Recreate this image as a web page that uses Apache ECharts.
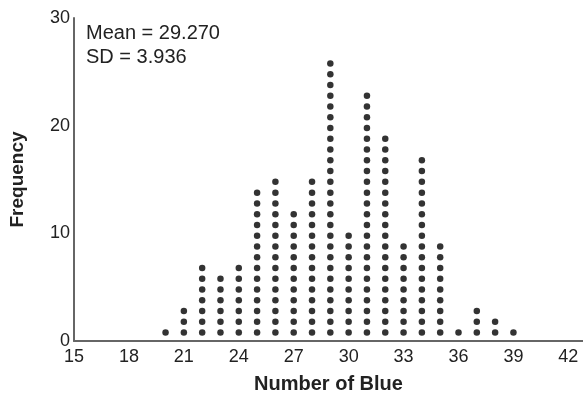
<!DOCTYPE html>
<html>
<head>
<meta charset="utf-8">
<script src="https://cdn.jsdelivr.net/npm/echarts@6/dist/echarts.min.js"></script>
<style>
  html, body { margin: 0; padding: 0; background: #fff; }
  #chart { width: 583px; height: 395px; }
</style>
</head>
<body>
<div id="chart"></div>
<script>
// number of blue per sample, and how many samples gave that number
const blueValues = [20, 21, 22, 23, 24, 25, 26, 27, 28, 29, 30, 31, 32, 33, 34, 35, 36, 37, 38, 39];
const frequencies = [1, 3, 7, 6, 7, 14, 15, 12, 15, 26, 10, 23, 19, 9, 17, 9, 1, 3, 2, 1];
const yTicks = [0, 10, 20, 30];
const statsText = ["Mean = 29.270", "SD = 3.936"];

// one dot per sample, stacked in columns
const dots = [];
blueValues.forEach((x, i) => {
  for (let k = 1; k <= frequencies[i]; k++) {
    dots.push([x, k - 0.22]);
  }
});

const chart = echarts.init(document.getElementById("chart"));
const font = "Liberation Sans, Arial, sans-serif";

chart.setOption({
  animation: false,
  title: {
    text: statsText.join("\n"),
    left: 86,
    top: 21,
    padding: 0,
    textStyle: { fontFamily: font, fontSize: 20, fontWeight: "normal", color: "#222", lineHeight: 24 },
  },
  grid: { left: 74, right: 0, top: 18, bottom: 54, outerBoundsMode: "none" },
  xAxis: {
    type: "value",
    min: 15,
    max: 42.8,
    interval: 3,
    name: "Number of Blue",
    nameLocation: "middle",
    nameGap: 33,
    nameTextStyle: { fontFamily: font, fontSize: 20, fontWeight: "bold", color: "#222" },
    axisLine: { lineStyle: { color: "#666", width: 2 } },
    axisTick: { show: false },
    splitLine: { show: false },
    axisLabel: {
      fontFamily: font,
      fontSize: 18,
      color: "#222",
      margin: 7,
      showMaxLabel: false,
      formatter: (v) => (v % 3 === 0 ? String(v) : ""),
    },
  },
  yAxis: {
    type: "value",
    min: yTicks[0],
    max: yTicks[yTicks.length - 1],
    interval: 10,
    name: "Frequency",
    nameLocation: "middle",
    nameGap: 47,
    nameTextStyle: { fontFamily: font, fontSize: 19, fontWeight: "bold", color: "#222" },
    axisLine: { show: true, lineStyle: { color: "#666", width: 2 } },
    axisTick: { show: false },
    splitLine: { show: false },
    axisLabel: { fontFamily: font, fontSize: 18, color: "#222", margin: 4 },
  },
  series: [
    {
      type: "scatter",
      data: dots,
      symbol: "circle",
      symbolSize: 6.5,
      itemStyle: { color: "#000" },
    },
  ],
});
</script>
</body>
</html>
